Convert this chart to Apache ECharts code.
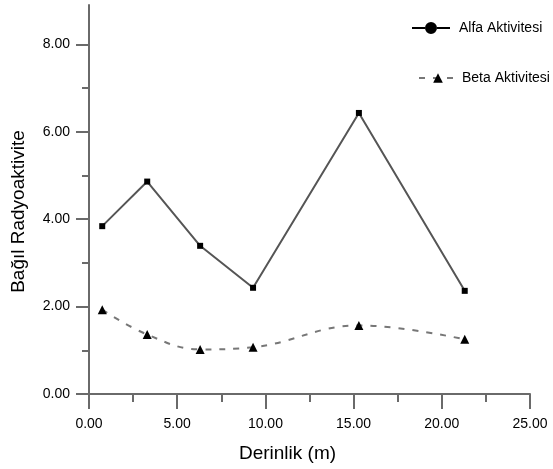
<!DOCTYPE html>
<html>
<head>
<meta charset="utf-8">
<script src="https://cdn.jsdelivr.net/npm/echarts@6/dist/echarts.min.js"></script>
<style>
  html, body { margin: 0; padding: 0; background: #fff; }
  #chart { width: 553px; height: 469px; }
</style>
</head>
<body>
<div id="chart"></div>
<script>
// derinlik (m) ve aktivite degerleri
const derinlik = [0.75, 3.3, 6.3, 9.3, 15.3, 21.3];
const alfa = [3.84, 4.86, 3.39, 2.43, 6.43, 2.36];
const beta = [1.93, 1.36, 1.02, 1.07, 1.57, 1.25];
const yEtiket = [0, 2, 4, 6, 8];
const yAra = [1, 3, 5, 7];

const pairs = (xs, ys) => xs.map((x, i) => [x, ys[i]]);

const chart = echarts.init(document.getElementById('chart'));
const font = 'Liberation Sans, Arial, sans-serif';
const eksen = { color: '#6a6a6a', width: 2 };

// legend ikonu: cizgi + daire
const alfaIkon = 'path://M0,5H13V7H0Z M25,5H38V7H25Z M13,6A6,6 0 1,1 25,6A6,6 0 1,1 13,6Z';

chart.setOption({
  animation: false,
  textStyle: { fontFamily: font },
  grid: { left: 89, right: 23, top: 5, bottom: 75 },
  legend: [
    {
      data: [{ name: 'Alfa Aktivitesi', icon: alfaIkon }],
      left: 412, top: 21, padding: 0, itemWidth: 38, itemHeight: 12,
      textStyle: { fontSize: 14, color: '#000', fontFamily: font, padding: [0, 0, 0, 4] }
    },
    {
      data: ['Beta Aktivitesi'],
      left: 418, top: 71, padding: 0, itemWidth: 38, itemHeight: 12,
      textStyle: { fontSize: 14, color: '#000', fontFamily: font, padding: [4, 0, 0, 0] }
    }
  ],
  xAxis: {
    type: 'value', min: 0, max: 25, interval: 5,
    name: 'Derinlik (m)', nameLocation: 'middle', nameGap: 50,
    nameTextStyle: { fontSize: 19, color: '#000', fontFamily: font, padding: [0, 44, 0, 0] },
    axisLine: { onZero: false, lineStyle: eksen },
    axisTick: { length: 15, lineStyle: eksen },
    minorTick: { show: true, splitNumber: 2, length: 8, lineStyle: eksen },
    splitLine: { show: false },
    axisLabel: { margin: 23, fontSize: 14, color: '#000', formatter: v => v.toFixed(2) }
  },
  yAxis: [
    {
      type: 'value', min: 0, max: 8.9,
      name: 'Bağıl Radyoaktivite', nameLocation: 'middle', nameGap: 61,
      nameTextStyle: { fontSize: 19, color: '#000', fontFamily: font, padding: [0, 24, 0, 0] },
      axisLine: { show: true, lineStyle: eksen },
      axisTick: { show: true, length: 13, lineStyle: eksen, customValues: yEtiket },
      splitLine: { show: false },
      axisLabel: { margin: 19, fontSize: 14, color: '#000', customValues: yEtiket, formatter: v => v.toFixed(2) }
    },
    {
      // ara tikler icin
      type: 'value', min: 0, max: 8.9, position: 'left', offset: 0,
      axisLine: { show: false },
      axisTick: { show: true, length: 7, lineStyle: eksen, customValues: yAra },
      axisLabel: { show: false },
      splitLine: { show: false }
    }
  ],
  series: [
    {
      name: 'Alfa Aktivitesi',
      type: 'line',
      data: pairs(derinlik, alfa),
      symbol: 'rect', symbolSize: 6,
      itemStyle: { color: '#000' },
      lineStyle: { color: '#555', width: 2 }
    },
    {
      name: 'Beta Aktivitesi',
      type: 'line',
      data: pairs(derinlik, beta),
      smooth: 0.4,
      symbol: 'triangle', symbolSize: 9,
      itemStyle: { color: '#000' },
      lineStyle: { color: '#777', width: 2, type: [6, 8] }
    }
  ]
});
</script>
</body>
</html>
